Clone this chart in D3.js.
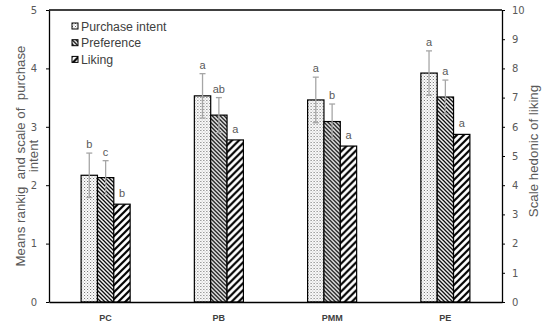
<!DOCTYPE html>
<html lang="en">
<head>
<meta charset="utf-8">
<title>purchase intent chart</title>
<style>
  body { margin: 0; background: #fff; }
  .axis text { font-family: "DejaVu Sans", Verdana, sans-serif; font-size: 10px; fill: #595959; }
  .axis path, .axis line { stroke: #000; }
  .ttl { font-family: "Liberation Sans", Arial, sans-serif; font-size: 13.3px; fill: #595959; white-space: pre; }
  .leg { font-family: "Liberation Sans", Arial, sans-serif; font-size: 12.3px; fill: #404040; }
  .sig { font-family: "Liberation Sans", Arial, sans-serif; font-size: 11px; fill: #595959; }
  .cat { font-family: "Liberation Sans", Arial, sans-serif; font-size: 9px; font-weight: bold; fill: #404040; }
</style>
</head>
<body>
<script src="https://cdnjs.cloudflare.com/ajax/libs/d3/7.8.5/d3.min.js"></script>
<script>
// data
var products = ["PC", "PB", "PMM", "PE"];
var purchase = [2.17, 3.53, 3.46, 3.92];
var purchaseErr = [0.38, 0.38, 0.39, 0.38];
var preference = [2.13, 3.20, 3.09, 3.51];
var preferenceErr = [0.29, 0.30, 0.30, 0.29];
var liking = [3.35, 5.55, 5.34, 5.74];      // right axis (0-10)
var purchaseSig = ["b", "a", "a", "a"];
var preferenceSig = ["c", "ab", "b", "a"];
var likingSig = ["b", "a", "a", "a"];
var seriesNames = ["Purchase intent", "Preference", "Liking"];
var leftTicks = [0, 1, 2, 3, 4, 5];
var rightTicks = [0, 1, 2, 3, 4, 5, 6, 7, 8, 9, 10];

var fullwidth = 550, fullheight = 329;
var margin = { top: 10, right: 48, bottom: 27, left: 49 };
var width = fullwidth - margin.left - margin.right;
var height = fullheight - margin.top - margin.bottom;

var svgRoot = d3.select("body").append("svg")
  .attr("width", fullwidth)
  .attr("height", fullheight);

// patterns
var defs = svgRoot.append("defs");
var pDots = defs.append("pattern").attr("id", "pDots")
  .attr("patternUnits", "userSpaceOnUse").attr("width", 3).attr("height", 3);
pDots.append("rect").attr("width", 3).attr("height", 3).attr("fill", "#fff");
pDots.append("rect").attr("x", 0).attr("y", 0).attr("width", 1).attr("height", 1).attr("fill", "#666");
pDots.append("rect").attr("x", 1.5).attr("y", 1.5).attr("width", 1).attr("height", 1).attr("fill", "#999");

var pDense = defs.append("pattern").attr("id", "pDense")
  .attr("patternUnits", "userSpaceOnUse").attr("width", 4).attr("height", 4);
pDense.append("rect").attr("width", 4).attr("height", 4).attr("fill", "#fff");
pDense.append("path").attr("d", "M0,0 L4,4 M-1,3 L1,5 M3,-1 L5,1")
  .attr("stroke", "#000").attr("stroke-width", 1.3);

var pWide = defs.append("pattern").attr("id", "pWide")
  .attr("patternUnits", "userSpaceOnUse").attr("width", 7).attr("height", 7);
pWide.append("rect").attr("width", 7).attr("height", 7).attr("fill", "#fff");
pWide.append("path").attr("d", "M0,7 L7,0 M-1,1 L1,-1 M6,8 L8,6")
  .attr("stroke", "#000").attr("stroke-width", 2.2);

var fills = ["url(#pDots)", "url(#pDense)", "url(#pWide)"];

var svg = svgRoot.append("g")
  .attr("transform", "translate(" + margin.left + "," + margin.top + ")");

var x0 = d3.scaleBand().domain(products).range([0, width])
  .paddingInner(0.567).paddingOuter(0.2835);
var x1 = d3.scaleBand().domain(seriesNames).range([0, x0.bandwidth()]);
var yL = d3.scaleLinear().domain([0, 5]).range([height, 0]);
var yR = d3.scaleLinear().domain([0, 10]).range([height, 0]);

// top frame line
svg.append("line").attr("x1", 0).attr("x2", width).attr("y1", 0).attr("y2", 0)
  .attr("stroke", "#000").attr("stroke-width", 1.3);

var rows = products.map(function(p, i) {
  return [
    { p: p, s: seriesNames[0], y: yL(purchase[i]), err: purchaseErr[i], v: purchase[i], sig: purchaseSig[i], f: fills[0] },
    { p: p, s: seriesNames[1], y: yL(preference[i]), err: preferenceErr[i], v: preference[i], sig: preferenceSig[i], f: fills[1] },
    { p: p, s: seriesNames[2], y: yR(liking[i]), err: 0, v: liking[i], sig: likingSig[i], f: fills[2] }
  ];
});

var groups = svg.selectAll("g.grp")
  .data(rows)
  .enter().append("g")
  .attr("class", "grp")
  .attr("transform", function(d, i) { return "translate(" + x0(products[i]) + ",0)"; });

groups.selectAll("rect")
  .data(function(d) { return d; })
  .enter().append("rect")
  .attr("x", function(d) { return x1(d.s); })
  .attr("y", function(d) { return d.y; })
  .attr("width", x1.bandwidth())
  .attr("height", function(d) { return height - d.y; })
  .attr("fill", function(d) { return d.f; })
  .attr("stroke", "#000")
  .attr("stroke-width", 1.2);

// error bars (left axis series only)
var cap = 3;
groups.selectAll("g.err")
  .data(function(d) { return d.filter(function(e) { return e.err > 0; }); })
  .enter().append("g")
  .attr("class", "err")
  .each(function(d) {
    var g = d3.select(this);
    var cx = x1(d.s) + x1.bandwidth() / 2;
    var top = yL(d.v + d.err), bot = yL(d.v - d.err);
    g.append("line").attr("x1", cx).attr("x2", cx).attr("y1", top).attr("y2", bot);
    g.append("line").attr("x1", cx - cap).attr("x2", cx + cap).attr("y1", top).attr("y2", top);
    g.append("line").attr("x1", cx - cap).attr("x2", cx + cap).attr("y1", bot).attr("y2", bot);
  })
  .selectAll("line").attr("stroke", "#a6a6a6").attr("stroke-width", 1.3);

// significance letters
groups.selectAll("text.sig")
  .data(function(d) { return d; })
  .enter().append("text")
  .attr("class", "sig")
  .attr("text-anchor", "middle")
  .attr("x", function(d) { return x1(d.s) + x1.bandwidth() / 2; })
  .attr("y", function(d) { return d.err > 0 ? yL(d.v + d.err) - 5 : d.y - 7; })
  .text(function(d) { return d.sig; });

// axes
var xAxis = d3.axisBottom(x0).tickSize(0).tickPadding(10).tickFormat("");
svg.append("g").attr("class", "x axis")
  .attr("transform", "translate(0," + height + ")")
  .call(xAxis)
  .select(".domain").attr("stroke-width", 1.3);

svg.selectAll("text.cat")
  .data(products)
  .enter().append("text")
  .attr("class", "cat")
  .attr("text-anchor", "middle")
  .attr("x", function(d) { return x0(d) + x0.bandwidth() / 2; })
  .attr("y", height + 19)
  .text(function(d) { return d; });

svg.append("g").attr("class", "y axis")
  .call(d3.axisLeft(yL).tickValues(leftTicks).tickFormat(d3.format("d"))
    .tickSize(3).tickPadding(9).tickSizeOuter(0))
  .select(".domain").attr("stroke-width", 1.3);

svg.append("g").attr("class", "y axis")
  .attr("transform", "translate(" + width + ",0)")
  .call(d3.axisRight(yR).tickValues(rightTicks).tickFormat(d3.format("d"))
    .tickSize(3).tickPadding(7).tickSizeOuter(0))
  .select(".domain").attr("stroke-width", 1.3);

// axis titles
svg.append("text").attr("class", "ttl")
  .attr("transform", "translate(" + (-24) + "," + (height / 2) + ") rotate(-90)")
  .attr("text-anchor", "middle")
  .text("Means rankig  and scale of  purchase");
svg.append("text").attr("class", "ttl")
  .attr("transform", "translate(" + (-11) + "," + (height / 2) + ") rotate(-90)")
  .attr("text-anchor", "middle")
  .text("intent");
svg.append("text").attr("class", "ttl")
  .attr("transform", "translate(" + (width + 36) + "," + (height / 2 - 5) + ") rotate(-90)")
  .attr("text-anchor", "middle")
  .text("Scale hedonic of liking");

// legend
var legend = svg.selectAll("g.legend")
  .data(seriesNames)
  .enter().append("g")
  .attr("class", "legend")
  .attr("transform", function(d, i) { return "translate(23," + (13 + i * 16.7) + ")"; });
legend.append("rect")
  .attr("x", 0).attr("y", 0).attr("width", 6).attr("height", 6)
  .attr("fill", function(d, i) { return fills[i]; })
  .attr("stroke", "#000").attr("stroke-width", 1);
legend.append("text")
  .attr("class", "leg")
  .attr("x", 9).attr("y", 7.5)
  .text(function(d) { return d; });
</script>
</body>
</html>
